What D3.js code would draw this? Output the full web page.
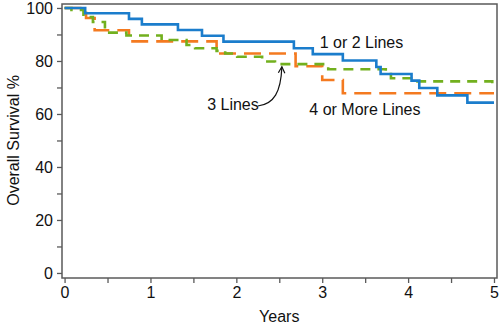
<!DOCTYPE html>
<html><head><meta charset="utf-8">
<style>
  html, body { margin: 0; padding: 0; background: #fff; }
  svg { display: block; font-family: 'Liberation Sans', Arial, sans-serif; }
  .frame { fill: none; stroke: #5a5a5a; stroke-width: 1.5; }
  .tick line { stroke: #5a5a5a; stroke-width: 1.3; }
  .tick text { fill: #111; font-size: 16px; }
  .curve { fill: none; stroke-width: 2.6; }
  .note { fill: #111; font-size: 16px; }
</style>
</head>
<body>
<svg id="chart" width="500" height="326"></svg>
<script src="https://cdnjs.cloudflare.com/ajax/libs/d3/7.8.5/d3.min.js"></script>
<script>
  // Kaplan-Meier steps: years at which survival drops, and survival % after each drop
  const oneTwoYears = [0, 0.24, 0.75, 0.90, 1.32, 1.60, 1.85, 2.67, 2.89, 3.24, 3.63, 3.68, 4.04, 4.13, 4.34, 4.69, 5];
  const oneTwoSurv  = [100, 98.0, 95.9, 93.8, 91.7, 89.5, 87.3, 84.8, 82.6, 80.2, 77.7, 75.1, 72.6, 69.8, 67.0, 64.3, 64.3];

  const threeYears = [0, 0.08, 0.22, 0.33, 0.47, 0.72, 1.13, 1.42, 1.52, 1.77, 1.87, 2.01, 2.30, 2.45, 3.07, 3.74, 3.80, 4.05, 4.98, 5];
  const threeSurv  = [100, 99.3, 96.6, 94.7, 90.7, 89.6, 87.9, 86.0, 84.8, 83.8, 82.8, 81.6, 79.8, 78.8, 76.9, 75.1, 73.5, 72.3, 71.2, 71.2];

  const fourPlusYears = [0, 0.25, 0.35, 0.75, 1.77, 2.69, 3.00, 3.24, 5];
  const fourPlusSurv  = [100, 96.2, 91.6, 87.4, 82.8, 78.0, 72.8, 67.8, 67.8];

  const xTicks = [0, 1, 2, 3, 4, 5];
  const xMinor = [0.5, 1.5, 2.5, 3.5, 4.5];
  const yTicks = [0, 20, 40, 60, 80, 100];
  const yMinor = [10, 30, 50, 70, 90];

  const svg = d3.select('#chart');
  const boxL = 62, boxR = 497, boxT = 4, boxB = 278;

  const x = d3.scaleLinear().domain([-0.03, 5.035]).range([boxL, boxR]);
  const y = d3.scaleLinear().domain([-1.9, 101.5]).range([boxB, boxT]);

  // axes (ticks outside the box)
  svg.append('g').attr('transform', `translate(0,${boxB})`)
    .call(d3.axisBottom(x).tickValues(xTicks).tickFormat(d3.format('d')).tickSize(5).tickPadding(4));
  svg.append('g').attr('transform', `translate(0,${boxB})`)
    .call(d3.axisBottom(x).tickValues(xMinor).tickFormat('').tickSize(5));
  svg.append('g').attr('transform', `translate(${boxL},0)`)
    .call(d3.axisLeft(y).tickValues(yTicks).tickSize(5).tickPadding(4));
  svg.append('g').attr('transform', `translate(${boxL},0)`)
    .call(d3.axisLeft(y).tickValues(yMinor).tickFormat('').tickSize(5));
  svg.selectAll('.domain').remove();

  const line = d3.line().curve(d3.curveStepAfter).x(d => x(d[0])).y(d => y(d[1]));

  const series = [
    { years: fourPlusYears, surv: fourPlusSurv, color: '#f47a20', dash: '17,8' },
    { years: threeYears, surv: threeSurv, color: '#72b01e', dash: '10,7' },
    { years: oneTwoYears, surv: oneTwoSurv, color: '#1b7dcc', dash: null }
  ];

  series.forEach(s => {
    svg.append('path')
      .datum(d3.zip(s.years, s.surv))
      .attr('class', 'curve')
      .attr('stroke', s.color)
      .attr('stroke-dasharray', s.dash)
      .attr('d', line);
  });

  svg.append('rect').attr('class', 'frame')
    .attr('x', boxL).attr('y', boxT).attr('width', boxR - boxL).attr('height', boxB - boxT);

  // axis titles
  svg.append('text').attr('class', 'note')
    .attr('x', x(2.5)).attr('y', 322).attr('text-anchor', 'middle').text('Years');
  svg.append('text').attr('class', 'note')
    .attr('transform', `translate(19,${y(50)}) rotate(-90)`)
    .attr('text-anchor', 'middle').text('Overall Survival %');

  // curve labels
  svg.append('text').attr('class', 'note').attr('x', x(2.97)).attr('y', 48).text('1 or 2 Lines');
  svg.append('text').attr('class', 'note').attr('x', x(2.85)).attr('y', 115).text('4 or More Lines');
  svg.append('text').attr('class', 'note').attr('x', x(1.66)).attr('y', 110).text('3 Lines');

  // arrow from "3 Lines" up to its curve
  const tip = [x(2.53), y(78.6) + 2];
  svg.append('path')
    .attr('d', `M${x(2.25)},${106} C${x(2.44)},${104} ${tip[0] - 1},${92} ${tip[0]},${tip[1]}`)
    .attr('fill', 'none').attr('stroke', '#111').attr('stroke-width', 1.2);
  svg.append('path')
    .attr('d', `M${tip[0] - 3.5},${tip[1] + 6} L${tip[0]},${tip[1]} L${tip[0] + 3},${tip[1] + 6.5}`)
    .attr('fill', 'none').attr('stroke', '#111').attr('stroke-width', 1.2);
</script>
</body></html>
